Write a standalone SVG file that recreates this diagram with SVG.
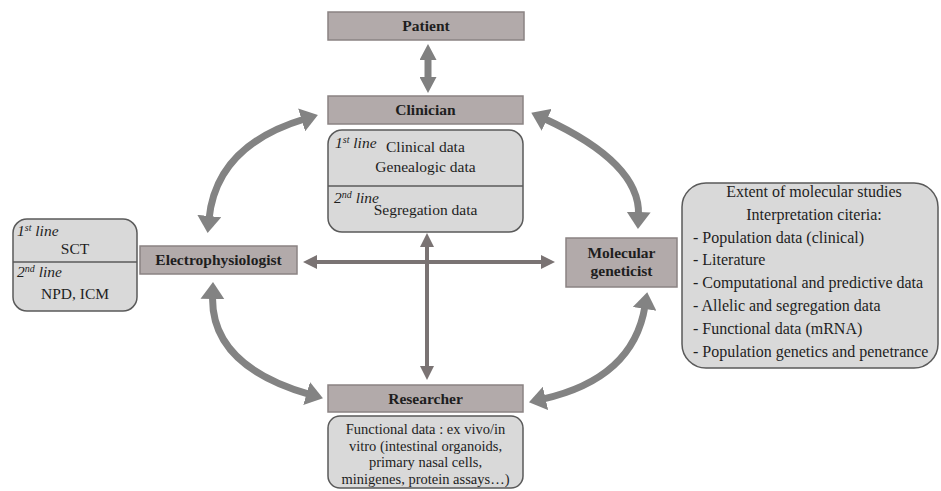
<svg xmlns="http://www.w3.org/2000/svg" width="941" height="491" viewBox="0 0 941 491">
<style>
.box{fill:#b2aaaa;stroke:#8a8383;stroke-width:1.5}
.rbox{fill:#d9d9d9;stroke:#5a5a5a;stroke-width:1.5}
.div{stroke:#5a5a5a;stroke-width:1.5}
.t{font-family:"Liberation Serif",serif;font-size:15.5px;fill:#1e1e1e}
.b{font-weight:bold}
.i{font-style:italic}
.m{text-anchor:middle}
.s{font-size:14.5px}
.l{font-size:16px}
.curve{fill:none;stroke:#838383;stroke-width:7}
.thin{fill:none;stroke:#7a7373;stroke-width:4}
.pa{fill:none;stroke:#808080;stroke-width:7}
</style>
<defs>
<marker id="hc" viewBox="0 0 17 24" markerUnits="userSpaceOnUse" markerWidth="17" markerHeight="24" refX="3" refY="12" orient="auto-start-reverse"><path d="M0,0 L17,12 L0,24 z" fill="#838383"/></marker>
<marker id="ht" viewBox="0 0 14 14" markerUnits="userSpaceOnUse" markerWidth="14" markerHeight="14" refX="3" refY="7" orient="auto-start-reverse"><path d="M0,0 L14,7 L0,14 z" fill="#7a7373"/></marker>
<marker id="hp" viewBox="0 0 16 17" markerUnits="userSpaceOnUse" markerWidth="16" markerHeight="17" refX="3" refY="8.5" orient="auto-start-reverse"><path d="M0,0 L16,8.5 L0,17 z" fill="#808080"/></marker>
</defs>

<g id="connectors">
<path class="pa" d="M428,57 L428,80" marker-start="url(#hp)" marker-end="url(#hp)"/>
<path class="thin" d="M314,262 L544,262" marker-start="url(#ht)" marker-end="url(#ht)"/>
<path class="thin" d="M427,244 L427,369" marker-start="url(#ht)" marker-end="url(#ht)"/>
<path class="curve" d="M209,219 Q216.3,145.6 304.5,119" marker-start="url(#hc)" marker-end="url(#hc)"/>
<path class="curve" d="M544,118.5 Q640.5,163 638.5,215" marker-start="url(#hc)" marker-end="url(#hc)"/>
<path class="curve" d="M212.6,296 Q210.5,365.7 309.5,394.4" marker-start="url(#hc)" marker-end="url(#hc)"/>
<path class="curve" d="M645,306 Q633.3,378.6 542.6,399.1" marker-start="url(#hc)" marker-end="url(#hc)"/>
</g>

<g id="patient">
<rect class="box" x="328" y="12" width="196" height="28"/>
<text class="t b m" x="426" y="31">Patient</text>
</g>

<g id="clinician">
<rect class="box" x="328" y="96" width="195" height="28"/>
<text class="t b m" x="425.5" y="115">Clinician</text>
</g>

<g id="clinician-data">
<rect class="rbox" x="328" y="130" width="195" height="102" rx="14"/>
<line class="div" x1="328" y1="186" x2="523" y2="186"/>
<text class="t i" x="335" y="148">1<tspan font-size="10" dy="-5">st</tspan><tspan dy="5"> line</tspan></text>
<text class="t" x="386" y="152">Clinical data</text>
<text class="t m" x="425.5" y="172">Genealogic data</text>
<text class="t i" x="334" y="203">2<tspan font-size="10" dy="-5">nd</tspan><tspan dy="5"> line</tspan></text>
<text class="t m" x="425.5" y="215">Segregation data</text>
</g>

<g id="electro-data">
<rect class="rbox" x="13" y="219" width="124" height="92" rx="14"/>
<line class="div" x1="13" y1="262" x2="137" y2="262"/>
<text class="t i" x="17" y="236">1<tspan font-size="10" dy="-5">st</tspan><tspan dy="5"> line</tspan></text>
<text class="t m" x="75" y="254">SCT</text>
<text class="t i" x="17" y="277">2<tspan font-size="10" dy="-5">nd</tspan><tspan dy="5"> line</tspan></text>
<text class="t m" x="75" y="299">NPD, ICM</text>
</g>

<g id="electrophysiologist">
<rect class="box" x="140" y="246" width="157" height="28"/>
<text class="t b m" x="218.5" y="265">Electrophysiologist</text>
</g>

<g id="molecular-geneticist">
<rect class="box" x="566" y="238" width="111" height="49"/>
<text class="t b m" x="621.5" y="258">Molecular</text>
<text class="t b m" x="621.5" y="276">geneticist</text>
</g>

<g id="molecular-data">
<rect class="rbox" x="682" y="183" width="256" height="185" rx="24"/>
<text class="t l m" x="814" y="197">Extent of molecular studies</text>
<text class="t l m" x="814" y="220">Interpretation citeria:</text>
<text class="t l" x="693" y="243">- Population data (clinical)</text>
<text class="t l" x="693" y="265">- Literature</text>
<text class="t l" x="693" y="288">- Computational and predictive data</text>
<text class="t l" x="693" y="311">- Allelic and segregation data</text>
<text class="t l" x="693" y="334">- Functional data (mRNA)</text>
<text class="t l" x="693" y="357">- Population genetics and penetrance</text>
</g>

<g id="researcher">
<rect class="box" x="328" y="385" width="195" height="27"/>
<text class="t b m" x="425.5" y="404">Researcher</text>
</g>

<g id="researcher-data">
<rect class="rbox" x="328" y="416" width="195" height="72" rx="12"/>
<text class="t s m" x="425.5" y="434">Functional data : ex vivo/in</text>
<text class="t s m" x="425.5" y="450.5">vitro (intestinal organoids,</text>
<text class="t s m" x="425.5" y="467">primary nasal cells,</text>
<text class="t s m" x="425.5" y="483.5">minigenes, protein assays…)</text>
</g>
</svg>
